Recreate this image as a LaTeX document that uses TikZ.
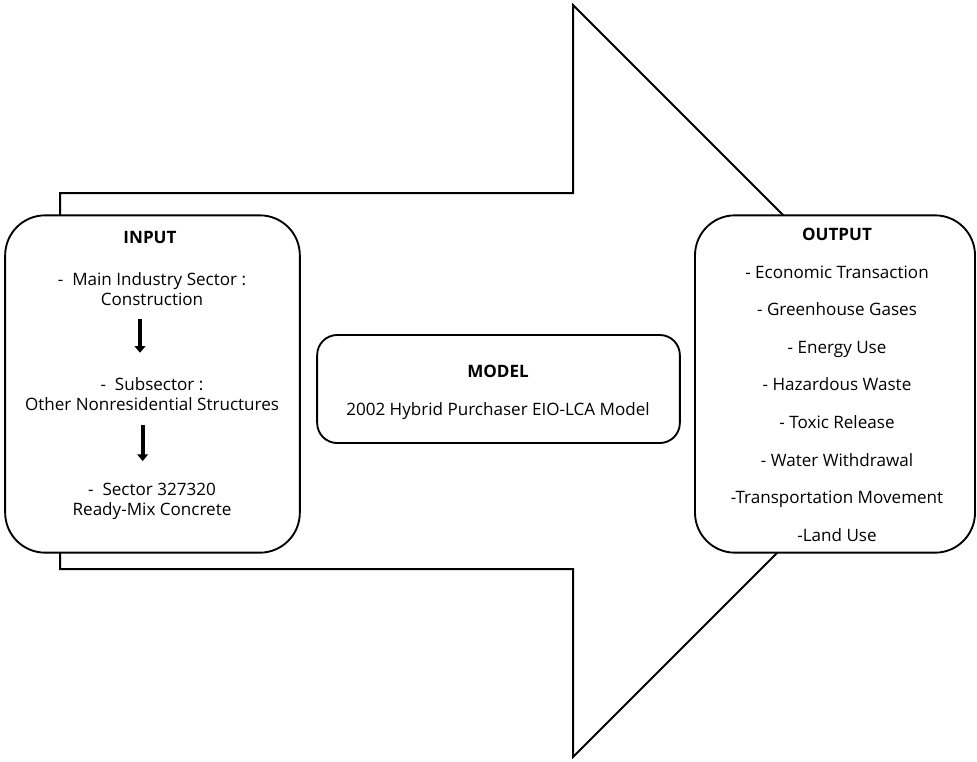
\documentclass[tikz,border=0pt]{standalone}
\usepackage{fontspec}
\setmainfont{Open Sans}
\usetikzlibrary{arrows.meta,positioning}

\tikzset{
  panel/.style={draw, line width=1.4pt, fill=white, rounded corners=30pt, inner sep=0pt},
  label/.style={inner sep=0pt, anchor=base, align=center, font=\fontsize{12.8}{15}\selectfont},
  title/.style={label, font=\fontsize{12.8}{15}\selectfont\bfseries},
  flow/.style={line width=2.8pt, -{Triangle[length=5pt,width=8pt]}}
}

\begin{document}
\begin{tikzpicture}[x=0.75pt,y=-0.75pt]
\useasboundingbox (0,0) rectangle (977,761);
% big arrow behind the boxes
\draw[line width=1.5pt, line join=miter]
  (60,215) -- (60,193) -- (573,193) -- (573,5) -- (949,381)
  -- (573,757) -- (573,569) -- (60,569) -- (60,553);

% input
\node[panel, minimum width=221pt, minimum height=253pt] (input) at (152.5,384) {};
\node[title] (intitle) at (150,243) {INPUT};
\node[label] (main) at (152,305) {-\ \ Main Industry Sector :\\Construction};
\node[label] (sub) at (152,410) {-\ \ Subsector :\\Other Nonresidential Structures};
\node[label] (sector) at (152,515) {-\ \ Sector 327320\\Ready-Mix Concrete};
\draw[flow] ([xshift=-9pt,yshift=-10pt]main.south) -- ([xshift=-9pt,yshift=18pt]sub.north);
\draw[flow] ([xshift=-7pt,yshift=-11pt]sub.south) -- ([xshift=-7pt,yshift=16pt]sector.north);

% model
\node[panel, rounded corners=15pt, minimum width=272pt, minimum height=81pt] (model) at (498.5,389) {};
\node[title] (modtitle) at (498,377) {MODEL};
\node[label] (modname) at (498,415) {2002 Hybrid Purchaser EIO-LCA Model};

% output
\node[panel, minimum width=210pt, minimum height=253pt] (output) at (835,384) {};
\node[title] (outtitle) at (837,240) {OUTPUT};
\foreach \txt [count=\i] in {- Economic Transaction, - Greenhouse Gases, - Energy Use,
  - Hazardous Waste, - Toxic Release, - Water Withdrawal,
  -Transportation Movement, -Land Use}
  \node[label] (out\i) at (837,{278+37.6*(\i-1)}) {\txt};
\end{tikzpicture}
\end{document}
